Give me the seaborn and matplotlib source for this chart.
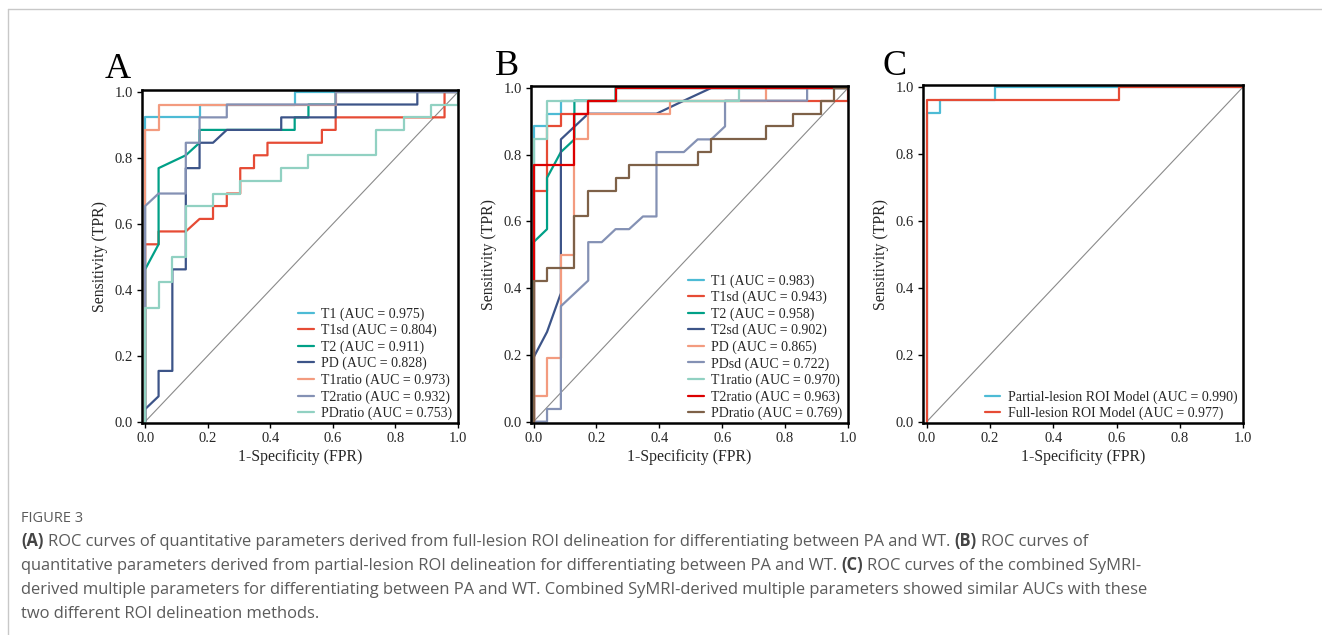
import matplotlib
matplotlib.use("Agg")
import pandas as pd
import seaborn as sns
import matplotlib.pyplot as plt
from matplotlib.lines import Line2D

# ---- panel A: full-lesion ROI ----
a_names = ["T1", "T1sd", "T2", "PD", "T1ratio", "T2ratio", "PDratio"]
a_auc = [0.975, 0.804, 0.911, 0.828, 0.973, 0.932, 0.753]
a_colors = ["#4DBBD5", "#E64B35", "#00A087", "#3C5488", "#F39B7F", "#8491B4", "#91D1C2"]
a_fpr = [
    [0, 0, 0.174, 0.174, 0.478, 0.478, 1],
    [0, 0, 0.043, 0.043, 0.130, 0.174, 0.217, 0.217, 0.261, 0.261, 0.304, 0.304,
     0.348, 0.348, 0.391, 0.391, 0.565, 0.565, 0.609, 0.609, 0.957, 0.957, 1],
    [0, 0, 0.043, 0.043, 0.130, 0.174, 0.174, 0.478, 0.478, 0.522, 0.522, 0.609, 0.609, 1],
    [0, 0, 0.043, 0.043, 0.087, 0.087, 0.130, 0.130, 0.174, 0.174, 0.217, 0.261,
     0.435, 0.435, 0.609, 0.609, 0.870, 0.870, 1],
    [0, 0, 0.043, 0.043, 0.609, 0.609, 1],
    [0, 0, 0.043, 0.130, 0.130, 0.174, 0.174, 0.261, 0.261, 0.609, 0.609, 1],
    [0, 0, 0.043, 0.043, 0.087, 0.087, 0.130, 0.130, 0.217, 0.217, 0.304, 0.304,
     0.435, 0.435, 0.522, 0.522, 0.739, 0.739, 0.826, 0.826, 0.913, 0.913, 1, 1],
]
a_tpr = [
    [0, 0.923, 0.923, 0.962, 0.962, 1, 1],
    [0, 0.538, 0.538, 0.577, 0.577, 0.615, 0.615, 0.654, 0.654, 0.692, 0.692, 0.769,
     0.769, 0.808, 0.808, 0.846, 0.846, 0.885, 0.885, 0.923, 0.923, 1, 1],
    [0, 0.462, 0.538, 0.769, 0.808, 0.846, 0.885, 0.885, 0.923, 0.923, 0.962, 0.962, 1, 1],
    [0, 0.038, 0.077, 0.154, 0.154, 0.462, 0.462, 0.769, 0.769, 0.846, 0.846, 0.885,
     0.885, 0.923, 0.923, 0.962, 0.962, 1, 1],
    [0, 0.885, 0.885, 0.962, 0.962, 1, 1],
    [0, 0.654, 0.692, 0.692, 0.846, 0.846, 0.923, 0.923, 0.962, 0.962, 1, 1],
    [0, 0.346, 0.346, 0.423, 0.423, 0.500, 0.500, 0.654, 0.654, 0.692, 0.692, 0.731,
     0.731, 0.769, 0.769, 0.808, 0.808, 0.885, 0.885, 0.923, 0.923, 0.962, 0.962, 1],
]

# ---- panel B: partial-lesion ROI ----
b_names = ["T1", "T1sd", "T2", "T2sd", "PD", "PDsd", "T1ratio", "T2ratio", "PDratio"]
b_auc = [0.983, 0.943, 0.958, 0.902, 0.865, 0.722, 0.970, 0.963, 0.769]
b_colors = ["#4DBBD5", "#E64B35", "#00A087", "#3C5488", "#F39B7F", "#8491B4",
            "#91D1C2", "#DC0000", "#7E6148"]
b_fpr = [
    [0, 0, 0.043, 0.043, 0.087, 0.087, 0.261, 0.261, 1],
    [0, 0, 0.043, 0.043, 0.087, 0.087, 0.174, 0.174, 1, 1],
    [0, 0, 0.043, 0.043, 0.087, 0.130, 0.130, 0.261, 0.261, 1],
    [0, 0, 0.043, 0.087, 0.087, 0.174, 0.391, 0.478, 0.565, 1],
    [0, 0, 0.043, 0.043, 0.087, 0.087, 0.130, 0.130, 0.174, 0.174, 0.435, 0.435,
     0.739, 0.739, 1],
    [0, 0.043, 0.043, 0.087, 0.087, 0.174, 0.174, 0.217, 0.261, 0.304, 0.348, 0.391,
     0.391, 0.478, 0.522, 0.565, 0.609, 0.609, 0.870, 0.870, 1],
    [0, 0, 0.043, 0.043, 0.652, 0.652, 1],
    [0, 0, 0.130, 0.130, 0.174, 0.174, 0.261, 0.261, 1],
    [0, 0, 0.043, 0.043, 0.130, 0.130, 0.174, 0.174, 0.261, 0.261, 0.304, 0.304,
     0.522, 0.522, 0.565, 0.565, 0.739, 0.739, 0.826, 0.826, 0.913, 0.913, 0.957,
     0.957, 1],
]
b_tpr = [
    [0, 0.885, 0.885, 0.923, 0.923, 0.962, 0.962, 1, 1],
    [0, 0.692, 0.692, 0.885, 0.885, 0.923, 0.923, 0.962, 0.962, 1],
    [0, 0.538, 0.577, 0.731, 0.808, 0.846, 0.962, 0.962, 1, 1],
    [0, 0.192, 0.269, 0.385, 0.846, 0.923, 0.923, 0.962, 1, 1],
    [0, 0.077, 0.077, 0.192, 0.192, 0.500, 0.500, 0.846, 0.846, 0.923, 0.923, 0.962,
     0.962, 1, 1],
    [0, 0, 0.038, 0.038, 0.346, 0.423, 0.538, 0.538, 0.577, 0.577, 0.615, 0.615,
     0.808, 0.808, 0.846, 0.846, 0.885, 0.962, 0.962, 1, 1],
    [0, 0.846, 0.846, 0.962, 0.962, 1, 1],
    [0, 0.769, 0.769, 0.923, 0.923, 0.962, 0.962, 1, 1],
    [0, 0.423, 0.423, 0.462, 0.462, 0.615, 0.615, 0.692, 0.692, 0.731, 0.731, 0.769,
     0.769, 0.808, 0.808, 0.846, 0.846, 0.885, 0.885, 0.923, 0.923, 0.962, 0.962,
     1, 1],
]

# ---- panel C: combined models ----
c_names = ["Partial-lesion ROI Model", "Full-lesion ROI Model"]
c_auc = [0.990, 0.977]
c_colors = ["#4DBBD5", "#E64B35"]
c_fpr = [
    [0, 0, 0.043, 0.043, 0.217, 0.217, 1],
    [0, 0, 0.609, 0.609, 1],
]
c_tpr = [
    [0, 0.923, 0.923, 0.962, 0.962, 1, 1],
    [0, 0.962, 0.962, 1, 1],
]

caption_lines = [
    [("(A)", True), ("ROC curves of quantitative parameters derived from full-lesion ROI "
                     "delineation for differentiating between PA and WT.", False),
     ("(B)", True), ("ROC curves of", False)],
    [("quantitative parameters derived from partial-lesion ROI delineation for "
      "differentiating between PA and WT.", False), ("(C)", True),
     ("ROC curves of the combined SyMRI-", False)],
    [("derived multiple parameters for differentiating between PA and WT. Combined "
      "SyMRI-derived multiple parameters showed similar AUCs with these", False)],
    [("two different ROI delineation methods.", False)],
]

W, H = 1322, 635
sns.set_style("ticks")
plt.rcParams["font.family"] = ["Liberation Serif", "DejaVu Serif"]

fig = plt.figure(figsize=(W / 100, H / 100), dpi=100)


def px_box(left, top, right, bottom):
    return [left / W, 1 - bottom / H, (right - left) / W, (bottom - top) / H]


def draw_panel(ax, names, aucs, fprs, tprs, colors, xlo, letter, letter_x, letter_y):
    rows = []
    for name, auc, fx, ty in zip(names, aucs, fprs, tprs):
        lab = f"{name} (AUC = {auc:.3f})"
        for x, y in zip(fx, ty):
            rows.append((lab, x, y))
    df = pd.DataFrame(rows, columns=["curve", "fpr", "tpr"])
    labs = list(dict.fromkeys(df["curve"]))
    ax.plot([0, 1], [0, 1], color="#8a8a8a", lw=0.8, zorder=1)
    sns.lineplot(data=df, x="fpr", y="tpr", hue="curve", hue_order=labs,
                 palette=colors, sort=False, estimator=None, errorbar=None,
                 lw=1.6, ax=ax)
    ax.set_xlim(xlo, 1.0)
    ax.set_ylim(-0.004, 1.006)
    ax.set_xticks([0, 0.2, 0.4, 0.6, 0.8, 1.0])
    ax.set_yticks([0, 0.2, 0.4, 0.6, 0.8, 1.0])
    ax.set_xlabel("1-Specificity (FPR)", fontsize=11.3, labelpad=3)
    ax.set_ylabel("Sensitivity (TPR)", fontsize=11.3, labelpad=5)
    ax.tick_params(labelsize=10.5, length=3.5, width=1.0, pad=3, color="black")
    for s in ax.spines.values():
        s.set_linewidth(1.8)
        s.set_color("black")
    sns.move_legend(ax, "lower right", bbox_to_anchor=(1.0, -0.008), title=None,
                    frameon=False, fontsize=10, handlelength=1.1,
                    handletextpad=0.55, labelspacing=0.22, borderaxespad=0.0)
    for line in ax.get_legend().get_lines():
        line.set_linewidth(1.6)
    fig.text(letter_x / W, 1 - letter_y / H, letter, fontsize=26, va="baseline",
             ha="left", color="black")


ax_a = fig.add_axes(px_box(142, 90, 458, 423))
draw_panel(ax_a, a_names, a_auc, a_fpr, a_tpr, a_colors, -0.010, "A", 105, 78)
ax_b = fig.add_axes(px_box(531, 86, 848, 423))
draw_panel(ax_b, b_names, b_auc, b_fpr, b_tpr, b_colors, -0.008, "B", 495, 75)
ax_c = fig.add_axes(px_box(923, 85, 1243, 423))
draw_panel(ax_c, c_names, c_auc, c_fpr, c_tpr, c_colors, -0.012, "C", 883, 75)

# page frame
fig.add_artist(Line2D([8 / W, 1], [1 - 9 / H, 1 - 9 / H], color="#c8c8c8", lw=1.0))
fig.add_artist(Line2D([8 / W, 8 / W], [0, 1 - 9 / H], color="#c8c8c8", lw=1.0))

# caption
cap_font = ["Open Sans", "DejaVu Sans"]
cap_color = "#5b5b5b"
cap_size = 11.9
fig.text(21 / W, 1 - 522 / H, "FIGURE 3", fontsize=10.5, family=cap_font,
         color=cap_color, va="baseline")

renderer = fig.canvas.get_renderer()
probe = fig.text(0, 0, "x x", fontsize=cap_size, family=cap_font)
probe2 = fig.text(0, 0, "xx", fontsize=cap_size, family=cap_font)
space_w = probe.get_window_extent(renderer).width - probe2.get_window_extent(renderer).width
probe.remove()
probe2.remove()

for i, parts in enumerate(caption_lines):
    x = 21
    y = 546 + i * 24
    for txt, bold in parts:
        t = fig.text(x / W, 1 - y / H, txt, fontsize=cap_size, family=cap_font,
                     fontweight="bold" if bold else "normal",
                     color="#444444" if bold else cap_color, va="baseline")
        x += t.get_window_extent(renderer).width + space_w

fig.savefig("out.png", dpi=100)
